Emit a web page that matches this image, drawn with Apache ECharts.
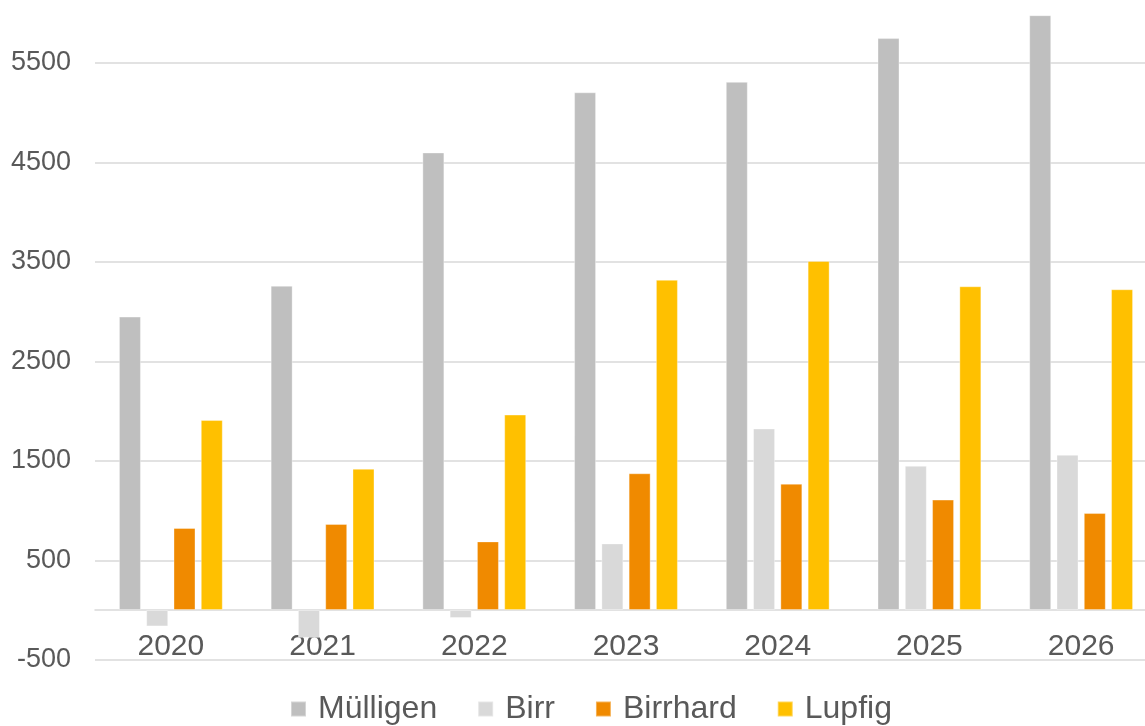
<!DOCTYPE html>
<html>
<head>
<meta charset="UTF-8">
<title>Mülligen, Birr, Birrhard, Lupfig</title>
<script src="https://cdn.jsdelivr.net/npm/echarts@6/dist/echarts.min.js"></script>
<style>
  html, body { margin: 0; padding: 0; background: #fff; overflow: hidden; }
  /* chart is cropped at the top and right in the original, so the canvas is larger than the window */
  #chart { position: absolute; left: 0; top: -50px; width: 1160px; height: 776px; }
</style>
</head>
<body>
<div id="chart"></div>
<script>
// data
const years = ["2020", "2021", "2022", "2023", "2024", "2025", "2026"];
const muelligen = [2950, 3260, 4600, 5205, 5310, 5750, 5980];
const birr = [-165, -280, -80, 670, 1825, 1450, 1560];
const birrhard = [825, 865, 690, 1375, 1270, 1110, 975];
const lupfig = [1910, 1420, 1965, 3320, 3510, 3255, 3225];

const seriesNames = ["Mülligen", "Birr", "Birrhard", "Lupfig"];
const seriesColors = ["#bfbfbf", "#d9d9d9", "#f08a00", "#ffc000"];

const textColor = "#595959";
const font = "'Liberation Sans', Arial, sans-serif";

const chart = echarts.init(document.getElementById("chart"));

function bar(name, data, color) {
  return {
    name: name,
    type: "bar",
    data: data,
    barWidth: 22,
    barGap: "24%",
    itemStyle: { color: color, borderColor: "rgba(255,255,255,0.35)", borderWidth: 1 },
    emphasis: { disabled: true }
  };
}

chart.setOption({
  animation: false,
  color: seriesColors,
  grid: { left: 95, right: 3, top: 13.25, bottom: 66.25, containLabel: false },
  legend: {
    data: seriesNames,
    left: 285,
    top: 738,
    itemWidth: 15,
    itemHeight: 15,
    itemGap: 40,
    icon: "rect",
    textStyle: { color: textColor, fontSize: 32, fontFamily: font, padding: [0, 0, 0, 7] }
  },
  xAxis: {
    type: "category",
    data: years,
    axisLine: { onZero: true, lineStyle: { color: "#d9d9d9", width: 1.5 } },
    axisTick: { show: false },
    // labels sit just under the zero line, not at the bottom of the grid
    axisLabel: { color: textColor, fontSize: 30, fontFamily: font, margin: -28 },
    splitLine: { show: false }
  },
  yAxis: {
    type: "value",
    min: -500,
    max: 6500,
    interval: 1000,
    axisLine: { show: false },
    axisTick: { show: false },
    axisLabel: {
      color: textColor, fontSize: 27, fontFamily: font, margin: 24,
      formatter: function (v) { return String(v); }
    },
    splitLine: { lineStyle: { color: "#d9d9d9", width: 1.5 } }
  },
  series: [
    bar(seriesNames[0], muelligen, seriesColors[0]),
    bar(seriesNames[1], birr, seriesColors[1]),
    bar(seriesNames[2], birrhard, seriesColors[2]),
    bar(seriesNames[3], lupfig, seriesColors[3])
  ]
});
</script>
</body>
</html>
